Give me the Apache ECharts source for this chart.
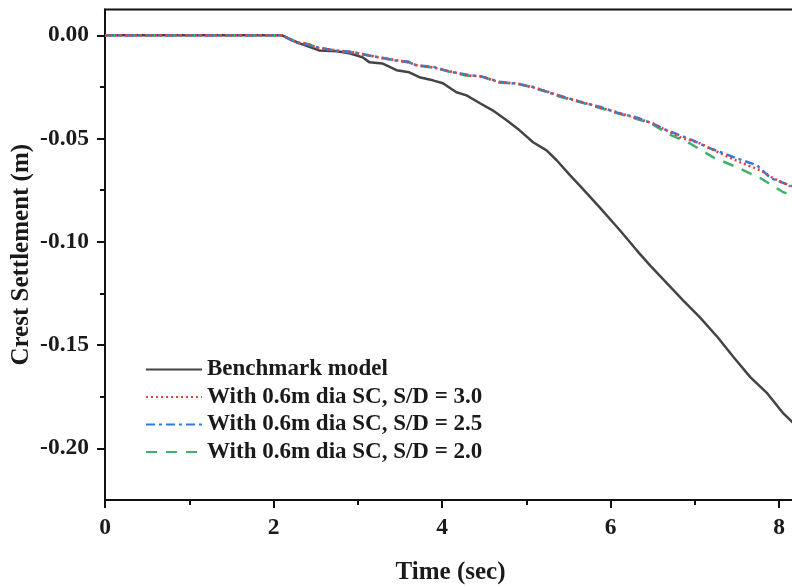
<!DOCTYPE html>
<html>
<head>
<meta charset="utf-8">
<script src="https://cdn.jsdelivr.net/npm/echarts@6/dist/echarts.min.js"></script>
<style>
html,body{margin:0;padding:0;background:#fff;}
#chart{width:792px;height:587px;}
</style>
</head>
<body>
<div id="chart"></div>
<script>
// ---- data ----
var seriesNames = ['Benchmark model', 'With 0.6m dia SC, S/D = 3.0', 'With 0.6m dia SC, S/D = 2.5', 'With 0.6m dia SC, S/D = 2.0'];
var xTickLabels = [0, 2, 4, 6, 8];
var xMinorTicks = [1, 3, 5, 7];
var yTickLabels = [0, -0.05, -0.10, -0.15, -0.20];
var yMinorTicks = [-0.025, -0.075, -0.125, -0.175];

var benchTime   = [0, 2.10, 2.31, 2.54, 2.75, 2.90, 3.06, 3.14, 3.29, 3.46, 3.61, 3.73, 3.89, 4.01, 4.17, 4.29, 4.45, 4.60, 4.77, 4.92, 5.08, 5.24, 5.36, 5.52, 5.64, 5.87, 6.11, 6.31, 6.47, 6.67, 6.86, 7.06, 7.27, 7.46, 7.66, 7.86, 8.05, 8.20];
var benchSettle = [0, 0, -0.0039, -0.0073, -0.0077, -0.0087, -0.0107, -0.0131, -0.0136, -0.0169, -0.0179, -0.0203, -0.0218, -0.0232, -0.0276, -0.0291, -0.0329, -0.0363, -0.0412, -0.0460, -0.0518, -0.0557, -0.0605, -0.0678, -0.0730, -0.0833, -0.0944, -0.1041, -0.1115, -0.1201, -0.1283, -0.1366, -0.1462, -0.1559, -0.1656, -0.1734, -0.1831, -0.1890];

var sd30Time   = [0, 2.10, 2.27, 2.39, 2.54, 2.75, 2.94, 3.14, 3.29, 3.46, 3.61, 3.70, 3.89, 4.09, 4.29, 4.48, 4.68, 4.89, 5.08, 5.28, 5.40, 5.67, 5.87, 6.08, 6.31, 6.50, 6.71, 6.83, 7.06, 7.30, 7.54, 7.78, 7.93, 8.16, 8.20];
var sd30Settle = [0, 0, -0.0034, -0.0039, -0.0063, -0.0073, -0.0082, -0.0097, -0.0111, -0.0121, -0.0131, -0.0145, -0.0155, -0.0174, -0.0194, -0.0199, -0.0228, -0.0232, -0.0252, -0.0276, -0.0295, -0.0324, -0.0349, -0.0373, -0.0402, -0.0426, -0.0470, -0.0494, -0.0523, -0.0571, -0.0615, -0.0654, -0.0692, -0.0736, -0.0745];

var sd25Time   = [0, 2.10, 2.27, 2.39, 2.54, 2.75, 2.94, 3.14, 3.29, 3.46, 3.61, 3.70, 3.89, 4.09, 4.29, 4.48, 4.68, 4.89, 5.08, 5.28, 5.40, 5.67, 5.87, 6.08, 6.31, 6.50, 6.67, 6.97, 7.15, 7.50, 7.74, 7.90, 8.16, 8.20];
var sd25Settle = [0, 0, -0.0036, -0.0044, -0.0060, -0.0075, -0.0080, -0.0099, -0.0108, -0.0123, -0.0128, -0.0146, -0.0152, -0.0176, -0.0190, -0.0201, -0.0225, -0.0235, -0.0250, -0.0279, -0.0292, -0.0326, -0.0346, -0.0375, -0.0398, -0.0428, -0.0460, -0.0508, -0.0542, -0.0596, -0.0630, -0.0692, -0.0731, -0.0740];

var sd20Time   = [0, 2.10, 2.27, 2.39, 2.54, 2.75, 2.94, 3.14, 3.29, 3.46, 3.61, 3.70, 3.89, 4.09, 4.29, 4.48, 4.68, 4.89, 5.08, 5.28, 5.40, 5.67, 5.87, 6.08, 6.31, 6.50, 6.67, 6.94, 7.22, 7.50, 7.78, 8.05, 8.16, 8.20];
var sd20Settle = [0, 0, -0.0034, -0.0040, -0.0062, -0.0074, -0.0083, -0.0098, -0.0110, -0.0122, -0.0132, -0.0146, -0.0156, -0.0176, -0.0195, -0.0201, -0.0229, -0.0234, -0.0254, -0.0278, -0.0298, -0.0327, -0.0352, -0.0377, -0.0405, -0.0431, -0.0475, -0.0523, -0.0591, -0.0639, -0.0692, -0.0760, -0.0775, -0.0782];

function pairs(t, v) { return t.map(function (x, i) { return [x, v[i]]; }); }

var FONT = '"Liberation Serif", "Times New Roman", serif';
var chart = echarts.init(document.getElementById('chart'), null, {renderer: 'canvas'});

var xMin = 0, xMax = 8.2, yMin = -0.225, yMax = 0.0125;
var G = {left: 105, right: -4, top: 9.5, bottom: 87};
var gridW = 792 - G.left - G.right;
var gridH = 587 - G.top - G.bottom;
var TXT = '#1a1a1a';

chart.setOption({
  backgroundColor: '#ffffff',
  animation: false,
  grid: {left: G.left, right: G.right, top: G.top, bottom: G.bottom, containLabel: false, outerBoundsMode: 'none',
    show: true, borderColor: '#111', borderWidth: 2, backgroundColor: 'transparent'},
  legend: {
    orient: 'vertical', left: 140, top: 353, itemWidth: 56, itemHeight: 14, itemGap: 4.5,
    itemStyle: {opacity: 0},
    textStyle: {fontFamily: FONT, fontWeight: 'bold', fontSize: 23, color: TXT},
    data: seriesNames
  },
  xAxis: [{
    type: 'value', min: xMin, max: xMax, position: 'bottom',
    name: 'Time (sec)', nameLocation: 'middle', nameGap: 60, nameMoveOverlap: false,
    nameTextStyle: {fontFamily: FONT, fontWeight: 'bold', fontSize: 25, color: TXT},
    axisLine: {show: true, onZero: false, lineStyle: {color: '#111', width: 2}},
    axisTick: {show: true, inside: false, length: 8, lineStyle: {color: '#111', width: 2}, customValues: xTickLabels},
    axisLabel: {show: true, margin: 16, customValues: xTickLabels, fontFamily: FONT, fontWeight: 'bold', fontSize: 23.5, color: TXT,
      formatter: function (v) { return String(v); }},
    splitLine: {show: false}
  }, {
    type: 'value', min: xMin, max: xMax, position: 'top', offset: -gridH,
    axisLine: {show: false, onZero: false},
    axisTick: {show: true, inside: true, length: 5, lineStyle: {color: '#111', width: 2}, customValues: xMinorTicks},
    axisLabel: {show: false},
    splitLine: {show: false}
  }],
  yAxis: [{
    type: 'value', min: yMin, max: yMax, position: 'left',
    name: 'Crest Settlement (m)', nameLocation: 'middle', nameGap: 71, nameMoveOverlap: false,
    nameTextStyle: {fontFamily: FONT, fontWeight: 'bold', fontSize: 25, color: TXT},
    axisLine: {show: true, onZero: false, lineStyle: {color: '#111', width: 2}},
    axisTick: {show: true, length: 8, lineStyle: {color: '#111', width: 2}, customValues: yTickLabels},
    axisLabel: {show: true, margin: 16, customValues: yTickLabels, fontFamily: FONT, fontWeight: 'bold', fontSize: 23.5, color: TXT,
      formatter: function (v) { return (Math.abs(v) < 1e-9 ? 0 : v).toFixed(2); }},
    splitLine: {show: false}
  }, {
    type: 'value', min: yMin, max: yMax, position: 'right', offset: -gridW,
    axisLine: {show: false, onZero: false},
    axisTick: {show: true, inside: true, length: 5, lineStyle: {color: '#111', width: 2}, customValues: yMinorTicks},
    axisLabel: {show: false},
    splitLine: {show: false}
  }],
  series: [{
    name: seriesNames[0], type: 'line', symbol: 'none', z: 2, clip: true,
    data: pairs(benchTime, benchSettle),
    lineStyle: {color: '#444444', width: 2.5, type: 'solid'}, itemStyle: {color: '#444444'}
  }, {
    name: seriesNames[1], type: 'line', symbol: 'none', z: 5, clip: true,
    data: pairs(sd30Time, sd30Settle),
    lineStyle: {color: '#e8403e', width: 2.5, type: [2, 3]}, itemStyle: {color: '#e8403e'}
  }, {
    name: seriesNames[2], type: 'line', symbol: 'none', z: 4, clip: true,
    data: pairs(sd25Time, sd25Settle),
    lineStyle: {color: '#2f7be0', width: 2.5, type: [9, 4, 3, 4]}, itemStyle: {color: '#2f7be0'}
  }, {
    name: seriesNames[3], type: 'line', symbol: 'none', z: 3, clip: true,
    data: pairs(sd20Time, sd20Settle),
    lineStyle: {color: '#3fb36b', width: 2.5, type: [11, 9]}, itemStyle: {color: '#3fb36b'}
  }]
});
</script>
</body>
</html>
